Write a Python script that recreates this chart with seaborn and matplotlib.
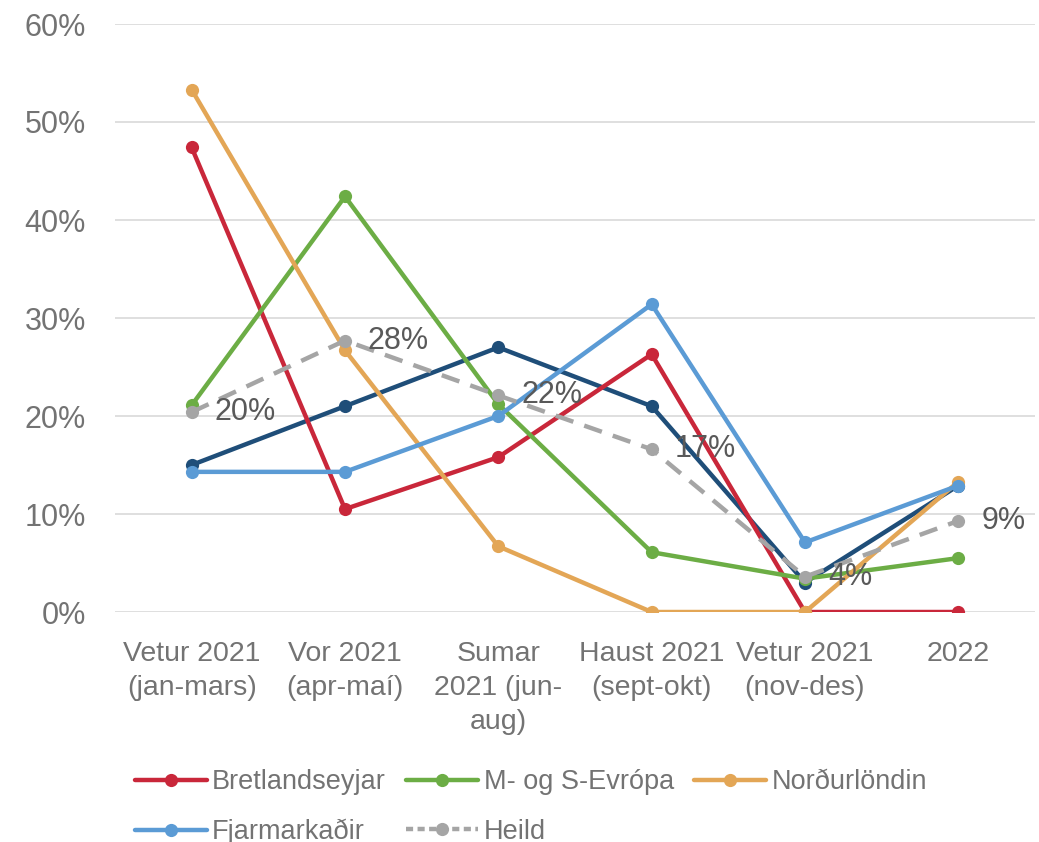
import matplotlib
matplotlib.use("Agg")
import matplotlib.pyplot as plt
import matplotlib.ticker as mticker
from matplotlib.lines import Line2D
import seaborn as sns
import pandas as pd

categories = ["Vetur 2021\n(jan-mars)", "Vor 2021\n(apr-maí)", "Sumar\n2021 (jun-\naug)",
              "Haust 2021\n(sept-okt)", "Vetur 2021\n(nov-des)", "2022"]
navy = [15.0, 21.0, 27.0, 21.0, 3.0, 12.9]
bretland = [47.4, 10.5, 15.8, 26.3, 0.0, 0.0]
evropa = [21.1, 42.4, 21.2, 6.1, 3.4, 5.5]
nordur = [53.3, 26.7, 6.7, 0.0, 0.0, 13.3]
fjarmark = [14.3, 14.3, 20.0, 31.4, 7.1, 12.9]
heild = [20.4, 27.7, 22.1, 16.6, 3.6, 9.3]
heild_labels = ["20%", "28%", "22%", "17%", "4%", "9%"]

sns.set_theme(style="white")
plt.rcParams["font.family"] = ["Liberation Sans", "DejaVu Sans"]

TXT = "#737373"

fig = plt.figure(figsize=(10.39, 8.42), dpi=100)
ax = fig.add_axes([115/1039, 1-612/842, 920/1039, 588/842])

series = [
    ("_navy", navy, "#1F4E79", False),
    ("Bretlandseyjar", bretland, "#C9273A", False),
    ("M- og S-Evrópa", evropa, "#6CAD45", False),
    ("Norðurlöndin", nordur, "#E3A656", False),
    ("Fjarmarkaðir", fjarmark, "#5B9BD5", False),
    ("Heild", heild, "#A5A5A5", True),
]
xs = list(range(len(categories)))
for i, (name, vals, col, dashed) in enumerate(series):
    df = pd.DataFrame({"x": xs, "y": vals})
    sns.lineplot(data=df, x="x", y="y", ax=ax, color=col, lw=3.2,
                 marker="o", markersize=9.5, markeredgewidth=0, markeredgecolor=col,
                 linestyle=(0, (4.2, 2.6)) if dashed else "-", zorder=3 + i, legend=False)

for x, v, lab in zip(xs, heild, heild_labels):
    ax.text(x + 0.15, v, lab, fontsize=22, color="#595959",
            va="center", ha="left", zorder=20)

ax.set_xlim(-0.5, 5.5)
ax.set_ylim(0, 60)
ax.set_yticks(range(0, 61, 10))
ax.yaxis.set_major_formatter(mticker.FuncFormatter(lambda v, p: f"{int(v)}%"))
ax.set_xticks(xs)
ax.set_xticklabels(categories, fontsize=20.5, color=TXT, linespacing=1.4)
for t in ax.get_yticklabels():
    t.set_fontsize(22)
    t.set_color(TXT)
ax.set_xlabel("")
ax.set_ylabel("")
ax.grid(axis="y", color="#D9D9D9", lw=1.2)
ax.set_axisbelow(True)
for s in ax.spines.values():
    s.set_visible(False)
ax.tick_params(axis="x", length=0, pad=21)
ax.tick_params(axis="y", length=0, pad=21)

leg_items = {}
for name, vals, col, dashed in series:
    if name.startswith("_"):
        continue
    leg_items[name] = Line2D([], [], color=col, lw=3.2, marker="o", markersize=9.5,
                             markeredgewidth=0,
                             linestyle=(0, (1.6, 1.0)) if dashed else "-")
order = ["Bretlandseyjar", "Fjarmarkaðir", "M- og S-Evrópa", "Heild", "Norðurlöndin"]
fig.legend([leg_items[n] for n in order], order, loc="upper left",
           bbox_to_anchor=(135/1039, 1-769/842),
           ncol=3, frameon=False, fontsize=19.5, handlelength=2.65, handletextpad=0.2,
           columnspacing=0.75, labelspacing=0.88, labelcolor=TXT,
           borderaxespad=0, borderpad=0)

fig.savefig("out.png", dpi=100)
